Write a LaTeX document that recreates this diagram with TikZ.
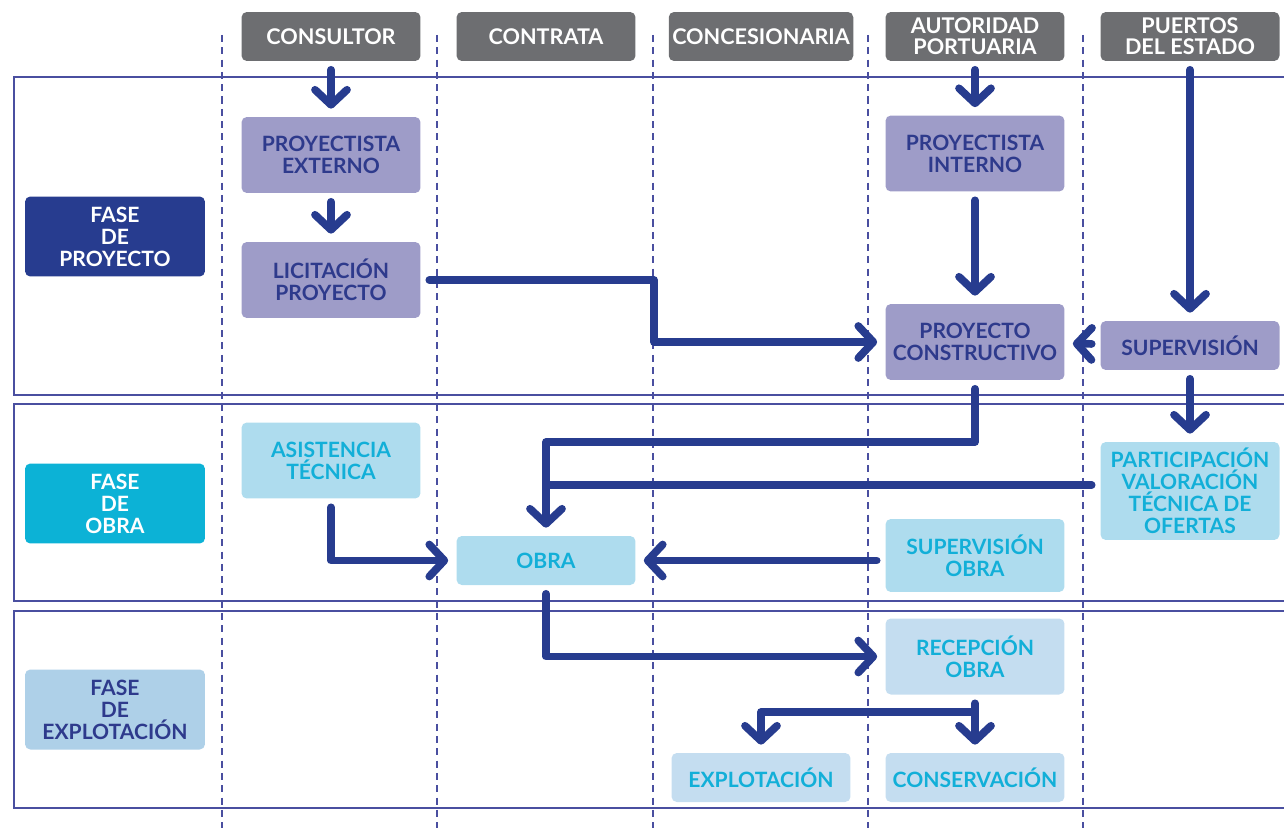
\documentclass[tikz,border=0pt]{standalone}
\usepackage{fontspec}
\setmainfont{Lato}
\usetikzlibrary{arrows.meta}

\definecolor{headgray}{HTML}{6D6E71}
\definecolor{navy}{HTML}{273C8F}
\definecolor{navytext}{HTML}{2E3A8C}
\definecolor{lavender}{HTML}{9E9CC8}
\definecolor{cyanfill}{HTML}{0CB2D6}
\definecolor{lightcyan}{HTML}{AEDCEE}
\definecolor{cyantext}{HTML}{12AFD8}
\definecolor{paleblue}{HTML}{C4DDF0}
\definecolor{phaseblue}{HTML}{AED0E8}
\definecolor{framecol}{HTML}{4A4FA0}

\begin{document}
\begin{tikzpicture}[x=0.02cm,y=-0.02cm,
	box/.style={rectangle,rounded corners=3pt,minimum width=3.58cm,minimum height=0.98cm,
		align=center,inner sep=2pt,font=\bfseries\fontsize{12}{12.5}\selectfont},
	head/.style={box,fill=headgray,text=white,font=\bfseries\fontsize{12.3}{12}\selectfont},
	proy/.style={box,fill=lavender,text=navytext,minimum height=1.52cm},
	obr/.style={box,fill=lightcyan,text=cyantext,minimum height=1.52cm},
	expl/.style={box,fill=paleblue,text=cyantext,minimum height=1.52cm},
	phase/.style={box,minimum width=3.6cm,minimum height=1.6cm},
	pipe/.style={draw=navy,line width=4.4pt,line cap=round,line join=round,shorten <=0.17cm},
	flow/.style={pipe,-{Straight Barb[length=0.3cm,width=0.64cm,round]},shorten >=0.16cm},
	frame/.style={draw=framecol,line width=1.1pt},
	lane/.style={draw=framecol,line width=0.9pt,dash pattern=on 4pt off 3pt}]

	\useasboundingbox (0,0) rectangle (1284,828);

	% lanes and phases
	\foreach \x in {222,437,653,868,1083}
		\draw[lane] (\x,35) -- (\x,828);
	\draw[frame] (14,77) rectangle (1300,395);
	\draw[frame] (14,404) rectangle (1300,601);
	\draw[frame] (14,611) rectangle (1300,808);

	% headers
	\node[head] (consultor) at (331,36.5) {CONSULTOR};
	\node[head] (contrata) at (546,36.5) {CONTRATA};
	\node[head] (concesion) at (761,36.5) {CONCESIONARIA};
	\node[head] (autoridad) at (975,36.5) {AUTORIDAD\\PORTUARIA};
	\node[head] (puertos) at (1190,36.5) {PUERTOS\\DEL ESTADO};

	% phase labels
	\node[phase,fill=navy,text=white] (fproy) at (115,236.5) {FASE\\DE\\PROYECTO};
	\node[phase,fill=cyanfill,text=white] (fobra) at (115,503.5) {FASE\\DE\\OBRA};
	\node[phase,fill=phaseblue,text=navytext] (fexpl) at (115,709.5) {FASE\\DE\\EXPLOTACIÓN};

	% fase de proyecto
	\node[proy] (ext) at (331,155) {PROYECTISTA\\EXTERNO};
	\node[proy] (lic) at (331,280) {LICITACIÓN\\PROYECTO};
	\node[proy] (int) at (975,153.5) {PROYECTISTA\\INTERNO};
	\node[proy] (cons) at (975,342) {PROYECTO\\CONSTRUCTIVO};
	\node[proy,minimum height=0.98cm] (sup) at (1190,345.5) {SUPERVISIÓN};

	% fase de obra
	\node[obr] (asis) at (331,460.5) {ASISTENCIA\\TÉCNICA};
	\node[obr,minimum height=0.98cm] (obra) at (546,560.5) {OBRA};
	\node[obr,minimum height=1.46cm] (supobra) at (975,555.5) {SUPERVISIÓN\\OBRA};
	\node[obr,minimum height=1.96cm] (part) at (1190,491) {PARTICIPACIÓN\\VALORACIÓN\\TÉCNICA DE\\OFERTAS};

	% fase de explotacion
	\node[expl] (rec) at (975,656.5) {RECEPCIÓN\\OBRA};
	\node[expl,minimum height=0.98cm] (explot) at (761,777.5) {EXPLOTACIÓN};
	\node[expl,minimum height=0.98cm] (conserv) at (975,777.5) {CONSERVACIÓN};

	\coordinate (j1) at (546,485);
	\coordinate (j2) at (975,712);

	\draw[flow] (consultor) -- (ext);
	\draw[flow] (ext) -- (lic);
	\draw[flow] (lic.east) -- (654,280) |- (cons.west);
	\draw[flow] (autoridad) -- (int);
	\draw[flow] (int) -- (cons);
	\draw[flow] (puertos) -- (sup);
	\draw[flow] (sup) -- (cons);
	\draw[flow] (sup) -- (part);
	\draw[flow] (cons.south) -- (975,442) -| (obra.north);
	\draw[pipe] (part.west |- j1) -- (j1);
	\draw[flow] (asis.south) |- (obra.west);
	\draw[flow] (supobra.west |- obra) -- (obra.east);
	\draw[flow] (obra.south) |- (rec.west);
	\draw[flow] (rec) -- (conserv);
	\draw[flow,shorten <=0pt] (j2) -| (explot.north);
\end{tikzpicture}
\end{document}
